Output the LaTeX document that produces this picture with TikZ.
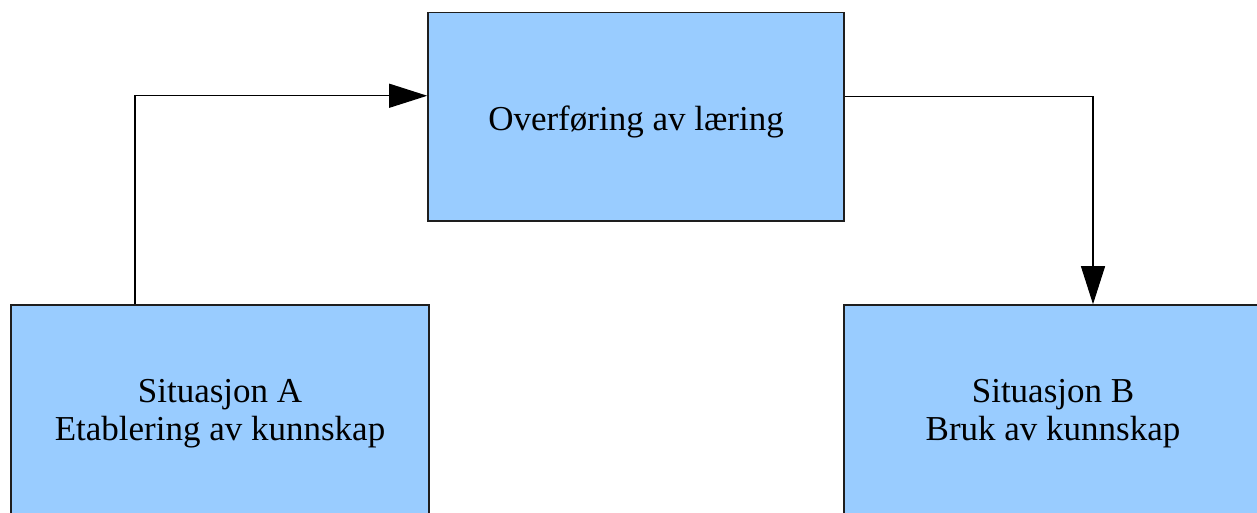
\documentclass[tikz,border=0pt]{standalone}
\usepackage{fontspec}
\setmainfont{Liberation Serif}
\usetikzlibrary{arrows.meta}
\definecolor{boxblue}{RGB}{153,204,255}
\definecolor{boxline}{RGB}{30,30,30}
\tikzset{
  stagebox/.style={draw=boxline, line width=1.6pt, fill=boxblue, rectangle,
    align=center, inner sep=0pt,
    font=\fontsize{35}{38}\selectfont},
  conn/.style={draw=black, line width=1.1pt,
    -{Triangle[length=38pt,width=24pt]}}
}
\begin{document}
\begin{tikzpicture}[x=1pt,y=-1pt]
  \clip (0,0) rectangle (1257,512);
  \fill[white] (0,0) rectangle (1257,512);
  % transfer box on top, the two situations below
  \node[stagebox, minimum width=416pt, minimum height=208.5pt,
        text height=26.5pt, text depth=0pt] (o) at (636,116.75)
    {Overføring av læring};
  \node[stagebox, minimum width=418pt, minimum height=210pt,
        text height=60pt, text depth=0pt] (a) at (220,410)
    {Situasjon A\\Etablering av kunnskap};
  \node[stagebox, minimum width=418pt, minimum height=210pt,
        text height=60pt, text depth=0pt] (b) at (1053,410)
    {Situasjon B\\Bruk av kunnskap};
  % connectors
  \draw[conn] ([xshift=-85pt]a.north) |- ([yshift=21pt]o.west);
  \draw[conn] ([yshift=20pt]o.east) -| ([xshift=40pt]b.north);
\end{tikzpicture}
\end{document}
